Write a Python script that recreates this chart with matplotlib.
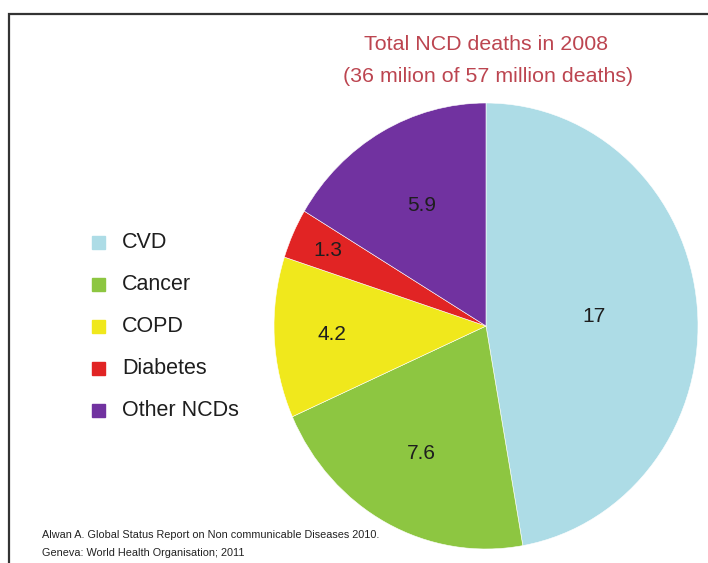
import matplotlib.pyplot as plt
import numpy as np
from matplotlib.patches import Rectangle

plt.rcParams['font.family'] = ['Liberation Sans', 'DejaVu Sans']

# Данные
categories = ['CVD', 'Cancer', 'COPD', 'Diabetes', 'Other NCDs']
deaths = [17, 7.6, 4.2, 1.3, 5.9]
value_labels = ['17', '7.6', '4.2', '1.3', '5.9']
colors = ['#ADDCE6', '#8DC641', '#F0E81C', '#E12424', '#7132A0']

title_lines = ['Total NCD deaths in 2008', '(36 milion of 57 million deaths)']
source_lines = ['Alwan A. Global Status Report on Non communicable Diseases 2010.',
                'Geneva: World Health Organisation; 2011']

fig = plt.figure(figsize=(7.08, 5.63), dpi=100)
W, H = 708, 563

# рамка слайда
fig.patches.append(Rectangle((9 / W, -0.1), 1.2, 1 - 14 / H + 0.1, transform=fig.transFigure,
                             fill=False, edgecolor='#333333', linewidth=1.6))

# круговая диаграмма (чуть вытянута по вертикали, как в оригинале)
ax = fig.add_axes([274 / W, 1 - 549 / H, 424 / W, 446 / H])
wedges, _ = ax.pie(deaths, colors=colors, startangle=90, counterclock=False,
                   wedgeprops=dict(edgecolor='white', linewidth=0.4))
ax.set_aspect('auto')
ax.set_xlim(-1, 1)
ax.set_ylim(-1, 1)
ax.axis('off')

# подписи значений
label_r = [0.51, 0.65, 0.73, 0.82, 0.62]
for w, txt, r in zip(wedges, value_labels, label_r):
    ang = np.deg2rad((w.theta1 + w.theta2) / 2)
    ax.text(r * np.cos(ang), r * np.sin(ang), txt, ha='center', va='center',
            fontsize=15, color='#1e1e1e')

# заголовок
fig.text(486 / W, 1 - 45 / H, title_lines[0], ha='center', va='center',
         fontsize=15.4, color='#BC4550')
fig.text(488 / W, 1 - 77 / H, title_lines[1], ha='center', va='center',
         fontsize=15.4, color='#BC4550')

# легенда
for i, (name, c) in enumerate(zip(categories, colors)):
    y = 1 - (242 + i * 42) / H
    fig.patches.append(Rectangle((92 / W, y - 6.5 / H), 13 / W, 13 / H,
                                 transform=fig.transFigure, color=c))
    fig.text(122 / W, y, name, ha='left', va='center', fontsize=15.5, color='#1e1e1e')

# источник
fig.text(42 / W, 1 - 535 / H, source_lines[0], ha='left', va='center',
         fontsize=7.8, color='#222222')
fig.text(42 / W, 1 - 553 / H, source_lines[1], ha='left', va='center',
         fontsize=7.8, color='#222222')

fig.savefig('out.png', dpi=100)
